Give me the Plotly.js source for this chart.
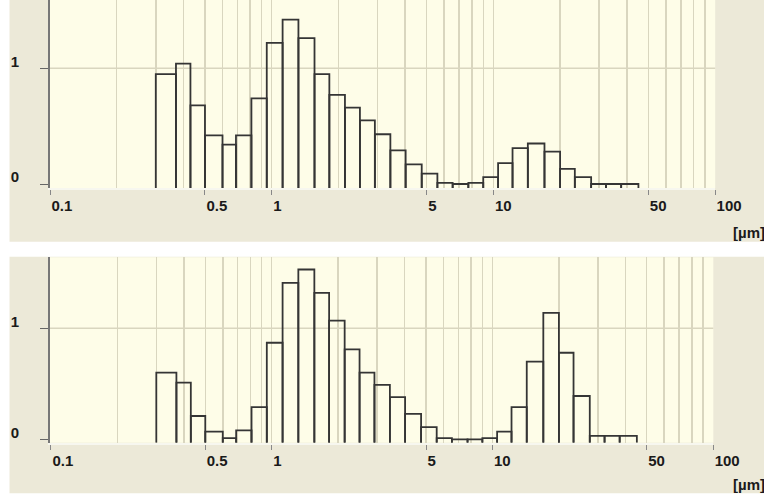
<!DOCTYPE html>
<html>
<head>
<meta charset="utf-8">
<script src="https://cdn.plot.ly/plotly-3.0.1.min.js"></script>
<style>html,body{margin:0;padding:0;background:#fff;}#chart{width:764px;height:499px;}</style>
</head>
<body>
<div id="chart"></div>
<script>
// Bin edges (µm), shared by both histograms
var binEdges = [0.30,0.37,0.43,0.50,0.60,0.69,0.81,0.95,1.12,1.32,1.56,1.82,2.14,2.50,2.92,3.43,4.02,4.75,5.59,6.55,7.71,9.00,10.5,12.2,14.3,17.0,20.0,23.3,27.6,32.2,37.7,45.1];
// Frequency values per bin
var topValues = [0.95,1.04,0.68,0.42,0.34,0.42,0.74,1.22,1.42,1.26,0.95,0.77,0.66,0.55,0.43,0.29,0.17,0.09,0.01,0.00,0.01,0.06,0.18,0.31,0.35,0.28,0.13,0.06,0.00,0.00,0.00];
var bottomValues = [0.60,0.51,0.21,0.07,0.01,0.08,0.29,0.87,1.41,1.53,1.32,1.07,0.81,0.60,0.49,0.38,0.23,0.11,0.01,0.00,0.00,0.01,0.07,0.29,0.70,1.14,0.78,0.39,0.03,0.03,0.03];
// Axis ticks
var xTickVals = [0.1,0.5,1,5,10,50,100];
var xTickText = ['0.1','0.5','1','5','10','50','100'];
var xGridVals = [0.2,0.3,0.4,0.6,0.7,0.8,0.9,2,3,4,6,7,8,9,20,30,40,60,70,80,90];
var yTickVals = [0,1];
var yTickText = ['0','1'];
var unitLabel = '[µm]';

var topYRange = [-0.0346, 1.590];
var botYRange = [-0.0306, 1.640];

function outline(edges, vals, base) {
  var xs = [], ys = [];
  for (var i = 0; i < vals.length; i++) {
    xs.push(edges[i], edges[i], edges[i+1], edges[i+1], null);
    ys.push(base, vals[i], vals[i], base, null);
  }
  return {x: xs, y: ys};
}

var lineStyle = {color: '#353535', width: 1.8};
var o1 = outline(binEdges, topValues, topYRange[0]);
var o2 = outline(binEdges, bottomValues, botYRange[0]);

var traces = [
  {type: 'scatter', mode: 'lines', x: o1.x, y: o1.y, xaxis: 'x', yaxis: 'y', line: lineStyle, hoverinfo: 'skip', connectgaps: false},
  {type: 'scatter', mode: 'lines', x: o2.x, y: o2.y, xaxis: 'x2', yaxis: 'y2', line: lineStyle, hoverinfo: 'skip', connectgaps: false}
];

var font = {family: 'Liberation Sans, Arial, sans-serif', size: 15, color: '#1a1a1a', weight: 'bold'};
var gridColor = '#D9D6BF';

function xAxis(domain, range, anchor) {
  return {
    type: 'log', domain: domain, range: range, anchor: anchor,
    tickmode: 'array', tickvals: xTickVals, ticktext: xTickText,
    ticks: 'outside', ticklen: 5, tickwidth: 1, tickcolor: '#888',
    ticklabelposition: 'outside right',
    ticklabelstandoff: 3,
    tickfont: font,
    showgrid: true, gridcolor: gridColor, gridwidth: 1.5,
    minor: {tickmode: 'array', tickvals: xGridVals, showgrid: true, gridcolor: gridColor, gridwidth: 1.5, ticks: ''},
    showline: true, linecolor: '#F7F7EF', linewidth: 2,
    zeroline: false, fixedrange: true
  };
}
function yAxis(domain, range, anchor) {
  return {
    domain: domain, range: range, anchor: anchor,
    tickmode: 'array', tickvals: yTickVals, ticktext: yTickText,
    ticks: 'outside', ticklen: 8, tickwidth: 1, tickcolor: '#666',
    ticklabelstandoff: 18, ticklabelshift: -7,
    tickfont: font,
    showgrid: false, zeroline: false,
    showline: true, linecolor: '#777', linewidth: 2,
    fixedrange: true
  };
}

var W = 764, H = 499;
function px(x) { return x / W; }
function py(y) { return 1 - y / H; }

var layout = {
  width: W, height: H,
  margin: {l: 0, r: 0, t: 0, b: 0},
  paper_bgcolor: '#ECE9D8',
  plot_bgcolor: '#FEFDE8',
  showlegend: false,
  xaxis: xAxis([px(50), px(715.2)], [-1, 2.0005], 'y'),
  yaxis: yAxis([py(188), 1], topYRange, 'x'),
  xaxis2: xAxis([px(50), px(713.3)], [-1.0045, 2.0005], 'y2'),
  yaxis2: yAxis([py(442.7), py(257.3)], botYRange, 'x2'),
  shapes: [
    // white surroundings
    {type: 'rect', xref: 'paper', yref: 'paper', x0: 0, x1: px(9.5), y0: 0, y1: 1, fillcolor: '#ffffff', line: {width: 0}, layer: 'below'},
    {type: 'rect', xref: 'paper', yref: 'paper', x0: 0, x1: 1, y0: py(256.8), y1: py(241.7), fillcolor: '#ffffff', line: {width: 0}, layer: 'below'},
    {type: 'rect', xref: 'paper', yref: 'paper', x0: 0, x1: 1, y0: 0, y1: py(493.3), fillcolor: '#ffffff', line: {width: 0}, layer: 'below'},
    // horizontal grid line at value 1
    {type: 'line', xref: 'x domain', yref: 'y', x0: 0, x1: 1, y0: yTickVals[1], y1: yTickVals[1], line: {color: gridColor, width: 1.5}, layer: 'below'},
    {type: 'line', xref: 'x2 domain', yref: 'y2', x0: 0, x1: 1, y0: yTickVals[1], y1: yTickVals[1], line: {color: gridColor, width: 1.5}, layer: 'below'}
  ],
  annotations: [
    {xref: 'paper', yref: 'paper', x: 1, y: py(232), xanchor: 'right', yanchor: 'middle', text: unitLabel, showarrow: false, font: font, xshift: 3},
    {xref: 'paper', yref: 'paper', x: 1, y: py(484), xanchor: 'right', yanchor: 'middle', text: unitLabel, showarrow: false, font: font, xshift: 3}
  ]
};

Plotly.newPlot('chart', traces, layout, {staticPlot: true, displayModeBar: false});
</script>
</body>
</html>
